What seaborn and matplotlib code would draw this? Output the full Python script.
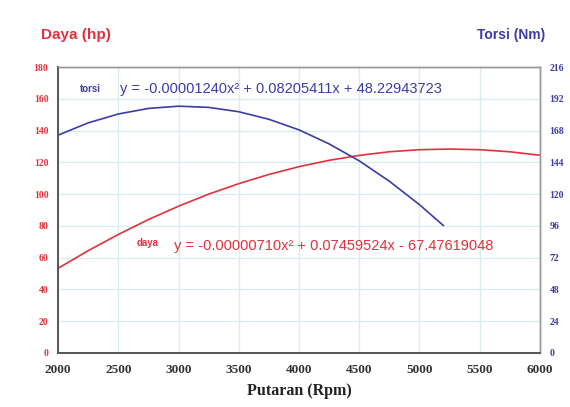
import matplotlib
matplotlib.use("Agg")
import matplotlib.pyplot as plt
import seaborn as sns
import pandas as pd

# values
rpm_daya = [2000, 2250, 2500, 2750, 3000, 3250, 3500, 3750, 4000,
            4250, 4500, 4750, 5000, 5250, 5500, 5750, 6000]
daya_hp = [53.3, 64.4, 74.6, 84.0, 92.4, 100.0, 106.6, 112.4, 117.3,
           121.3, 124.4, 126.7, 128.0, 128.4, 128.0, 126.7, 124.5]

rpm_torsi = [2000, 2250, 2500, 2750, 3000, 3250, 3500, 3750, 4000,
             4250, 4500, 4750, 5000, 5200]
torsi_nm = [164.6, 173.9, 180.6, 184.8, 186.5, 185.6, 182.3, 176.6, 168.6,
            158.0, 145.2, 129.8, 112.1, 96.2]

x_ticks = [2000, 2500, 3000, 3500, 4000, 4500, 5000, 5500, 6000]
left_ticks = [0, 20, 40, 60, 80, 100, 120, 140, 160, 180]
right_ticks = [0, 24, 48, 72, 96, 120, 144, 168, 192, 216]

eq_torsi = "y = -0.00001240x\u00b2 + 0.08205411x + 48.22943723"
eq_daya = "y = -0.00000710x\u00b2 + 0.07459524x - 67.47619048"

red = "#e0313c"
blue = "#3c3ca6"
grid_col = "#d7ecee"

sns.set_style("white")
plt.rcParams['font.family'] = ['Liberation Sans', 'DejaVu Sans']

daya_df = pd.DataFrame({"rpm": rpm_daya, "daya": daya_hp})
torsi_df = pd.DataFrame({"rpm": rpm_torsi, "torsi": torsi_nm})

fig = plt.figure(figsize=(5.7, 4.07), dpi=100)
ax = fig.add_axes([0.102, 0.133, 0.845, 0.702])
ax2 = ax.twinx()

sns.lineplot(data=daya_df, x="rpm", y="daya", ax=ax, color=red, linewidth=1.2)
sns.lineplot(data=torsi_df, x="rpm", y="torsi", ax=ax2, color=blue, linewidth=1.2)

ax.set_xlim(2000, 6000)
ax.set_ylim(0, 180)
ax2.set_ylim(0, 216)
ax.set_xticks(x_ticks)
ax.set_yticks(left_ticks)
ax2.set_yticks(right_ticks)

ax.grid(True, color=grid_col, linewidth=0.9)
ax.set_axisbelow(True)

serif_bold = dict(family='Liberation Serif', weight='bold')
ax.set_xticklabels([str(t) for t in x_ticks], fontsize=9.5, color="#333333", **serif_bold)
ax.set_yticklabels([str(t) for t in left_ticks], fontsize=7, color=red, **serif_bold)
ax2.set_yticklabels([str(t) for t in right_ticks], fontsize=7, color=blue, **serif_bold)
ax.tick_params(axis='x', length=0, pad=8)
ax.tick_params(axis='y', length=0, pad=7)
ax2.tick_params(axis='y', length=0, pad=7)

ax.set_xlabel("Putaran (Rpm)", fontsize=11.5, color="#222222", labelpad=5, **serif_bold)
ax.set_ylabel("")
ax2.set_ylabel("")

for a in (ax, ax2):
    for side in ("left", "bottom"):
        a.spines[side].set_color("#555555")
        a.spines[side].set_linewidth(1.2)
    for side in ("top", "right"):
        a.spines[side].set_color("#999999")
        a.spines[side].set_linewidth(1.0)

fig.text(0.072, 0.903, "Daya (hp)", color=red, fontsize=11, fontweight='bold')
fig.text(0.957, 0.903, "Torsi (Nm)", color=blue, fontsize=10, fontweight='bold', ha='right')

ax.text(2180, 166, "torsi", color=blue, fontsize=7, fontweight='bold', va='center')
ax.text(2510, 166, eq_torsi, color=blue, fontsize=10.5, va='center')
ax.text(2650, 69, "daya", color=red, fontsize=7, fontweight='bold', va='center')
ax.text(2965, 67.5, eq_daya, color=red, fontsize=10.5, va='center')

fig.savefig("out.png", dpi=100, facecolor="white")
